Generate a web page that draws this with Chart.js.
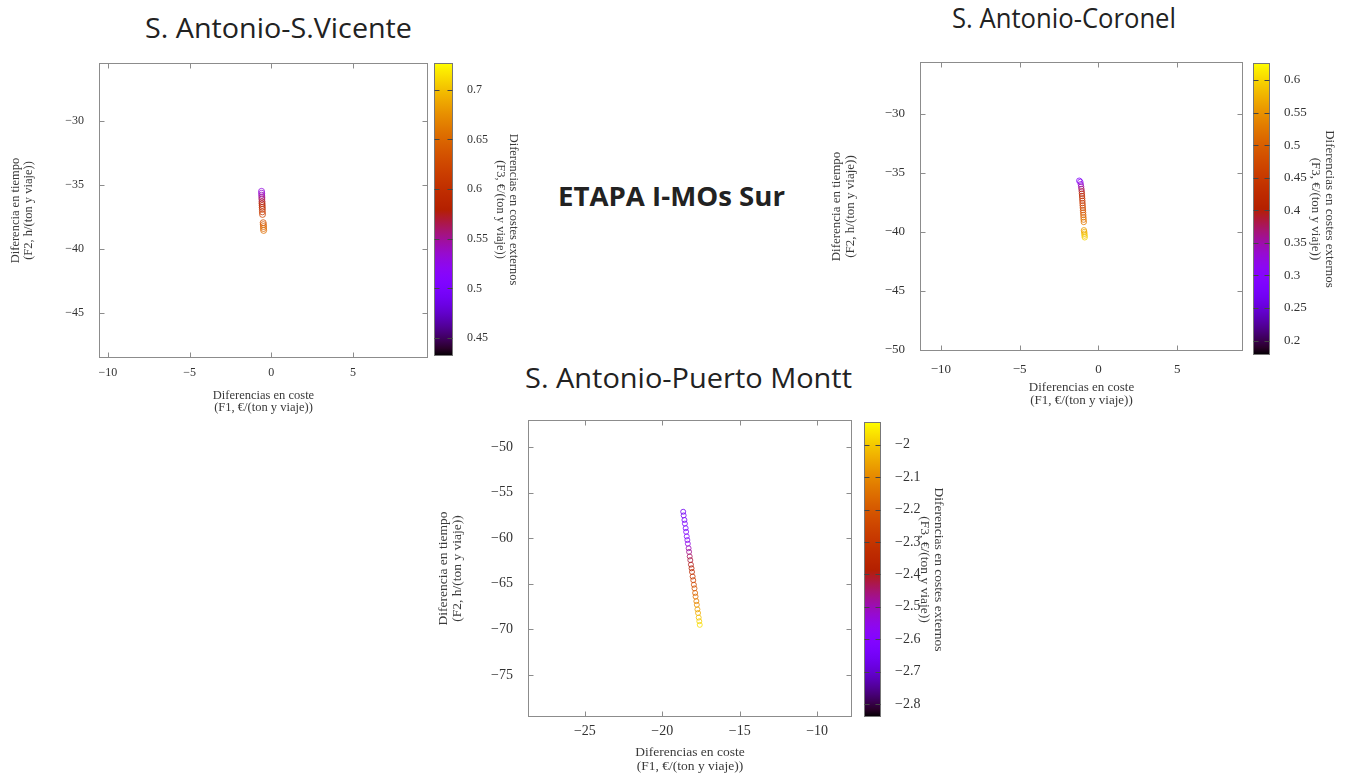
<!DOCTYPE html>
<html lang="es">
<head>
<meta charset="utf-8">
<title>ETAPA I-MOs Sur</title>
<script src="https://cdn.jsdelivr.net/npm/chart.js@4.4.1/dist/chart.umd.min.js"></script>
<style>
  html, body { margin: 0; padding: 0; background: #fff; overflow: hidden; }
  #page { position: relative; width: 1347px; height: 776px; }
  canvas { position: absolute; }
  .titulo { position: absolute; font-family: 'Open Sans', sans-serif; color: #222; white-space: nowrap; line-height: 1; transform-origin: left top; }
</style>
</head>
<body>
<div id="page">
  <div class="titulo" id="tSV">S. Antonio-S.Vicente</div>
  <div class="titulo" id="tCO">S. Antonio-Coronel</div>
  <div class="titulo" id="tPM">S. Antonio-Puerto Montt</div>
  <div class="titulo" id="tEtapa" style="font-weight:700">ETAPA I-MOs Sur</div>

  <canvas id="scSV" width="434" height="420" style="left:0px;top:0px"></canvas>
  <canvas id="cbSV" width="90" height="420" style="left:434px;top:0px"></canvas>

  <canvas id="scCO" width="427" height="413" style="left:821px;top:0px"></canvas>
  <canvas id="cbCO" width="87" height="413" style="left:1253px;top:0px"></canvas>

  <canvas id="scPM" width="428" height="419" style="left:429px;top:357px"></canvas>
  <canvas id="cbPM" width="86" height="419" style="left:864px;top:357px"></canvas>
</div>

<script>
// --- S. Antonio - S.Vicente ---
const f1SV = [-0.60, -0.59, -0.59, -0.58, -0.58, -0.57, -0.57, -0.56, -0.56, -0.55, -0.55, -0.54, -0.50, -0.49, -0.48, -0.48, -0.47];
const f2SV = [-35.5, -35.65, -35.8, -35.95, -36.1, -36.3, -36.45, -36.6, -36.75, -36.9, -37.1, -37.3, -37.95, -38.1, -38.25, -38.4, -38.55];
const f3SV = [0.53, 0.535, 0.54, 0.55, 0.56, 0.57, 0.58, 0.585, 0.59, 0.60, 0.61, 0.62, 0.635, 0.64, 0.645, 0.65, 0.655];
const xTicksSV = [-10, -5, 0, 5];
const yTicksSV = [-45, -40, -35, -30];
const cTicksSV = [0.45, 0.5, 0.55, 0.6, 0.65, 0.7];
const xRangeSV = [-10.55, 9.59];
const yRangeSV = [-48.52, -25.47];
const cRangeSV = [0.432, 0.727];

// --- S. Antonio - Coronel ---
const f1CO = [-1.22, -1.15, -1.12, -1.10, -1.08, -1.06, -1.05, -1.04, -1.03, -1.02, -1.01, -1.00, -0.99, -0.98, -0.97, -0.96, -0.95, -0.94, -0.93, -0.92, -0.90, -0.89, -0.88, -0.87];
const f2CO = [-35.65, -35.75, -35.95, -36.15, -36.35, -36.55, -36.75, -36.95, -37.15, -37.35, -37.55, -37.75, -37.95, -38.15, -38.35, -38.55, -38.75, -38.95, -39.15, -39.85, -40.0, -40.15, -40.3, -40.45];
const f3CO = [0.30, 0.31, 0.33, 0.35, 0.37, 0.39, 0.41, 0.42, 0.43, 0.44, 0.45, 0.46, 0.47, 0.48, 0.49, 0.50, 0.51, 0.52, 0.53, 0.56, 0.57, 0.58, 0.59, 0.60];
const xTicksCO = [-10, -5, 0, 5];
const yTicksCO = [-50, -45, -40, -35, -30];
const cTicksCO = [0.2, 0.25, 0.3, 0.35, 0.4, 0.45, 0.5, 0.55, 0.6];
const xRangeCO = [-11.33, 9.18];
const yRangeCO = [-50.08, -25.59];
const cRangeCO = [0.178, 0.626];

// --- S. Antonio - Puerto Montt ---
const f1PM = [-18.65, -18.62, -18.57, -18.54, -18.49, -18.46, -18.42, -18.38, -18.35, -18.30, -18.27, -18.23, -18.19, -18.15, -18.11, -18.08, -18.04, -18.00, -17.96, -17.92, -17.88, -17.85, -17.80, -17.77, -17.73, -17.69, -17.65, -17.61, -17.58];
const f2PM = [-57.1, -57.5, -58.0, -58.4, -58.9, -59.3, -59.8, -60.2, -60.6, -61.1, -61.5, -62.0, -62.4, -62.9, -63.3, -63.7, -64.2, -64.6, -65.1, -65.5, -66.0, -66.4, -66.9, -67.3, -67.8, -68.2, -68.7, -69.1, -69.5];
const f3PM = [-2.66, -2.65, -2.64, -2.63, -2.62, -2.61, -2.60, -2.58, -2.55, -2.50, -2.47, -2.44, -2.42, -2.40, -2.38, -2.34, -2.30, -2.27, -2.24, -2.21, -2.18, -2.15, -2.12, -2.09, -2.06, -2.04, -2.01, -1.99, -1.97];
const xTicksPM = [-25, -20, -15, -10];
const yTicksPM = [-75, -70, -65, -60, -55, -50];
const cTicksPM = [-2.8, -2.7, -2.6, -2.5, -2.4, -2.3, -2.2, -2.1, -2.0];
const xRangePM = [-28.67, -7.75];
const yRangePM = [-79.6, -47.04];
const cRangePM = [-2.84, -1.93];

const xTitle = ['Diferencias en coste', '(F1, €/(ton y viaje))'];
const yTitle = ['Diferencia en tiempo', '(F2, h/(ton y viaje))'];
const cTitle = ['Diferencias en costes externos', '(F3, €/(ton y viaje))'];

const SERIF = "'Liberation Serif', 'DejaVu Serif', serif";

// paleta por defecto de gnuplot (rgbformulae 7,5,15)
function paleta(t, alfa) {
    t = Math.min(1, Math.max(0, t));
    const r = Math.sqrt(t);
    const g = t * t * t;
    const b = Math.max(0, Math.sin(2 * Math.PI * t));
    return `rgba(${Math.round(r * 255)}, ${Math.round(g * 255)}, ${Math.round(b * 255)}, ${alfa === undefined ? 1 : alfa})`;
}

function fmt(v) {
    const n = Number(Math.abs(v).toFixed(2));
    return (v < 0 ? '\u2212' : '') + n;
}

// marco completo con marcas de escala hacia dentro, como en gnuplot
const marco = {
    id: 'marco',
    afterDraw(chart, args, o) {
        const { ctx, chartArea: a } = chart;
        const L = o.len || 5;
        ctx.save();
        ctx.strokeStyle = o.color || '#8a8a8a';
        ctx.lineWidth = 1;
        const l = Math.round(a.left) + 0.5, r = Math.round(a.right) - 0.5;
        const t = Math.round(a.top) + 0.5, b = Math.round(a.bottom) - 0.5;
        ctx.strokeRect(l, t, r - l, b - t);
        ctx.strokeStyle = o.tickColor || ctx.strokeStyle;
        ctx.beginPath();
        if (o.x !== false && chart.scales.x && chart.scales.x.type === 'linear') {
            chart.scales.x.ticks.forEach(tk => {
                const px = Math.round(chart.scales.x.getPixelForValue(tk.value)) + 0.5;
                ctx.moveTo(px, b); ctx.lineTo(px, b - L);
                ctx.moveTo(px, t); ctx.lineTo(px, t + L);
            });
        }
        chart.scales.y.ticks.forEach(tk => {
            const py = Math.round(chart.scales.y.getPixelForValue(tk.value)) + 0.5;
            ctx.moveTo(l, py); ctx.lineTo(l + L, py);
            ctx.moveTo(r, py); ctx.lineTo(r - L, py);
        });
        ctx.stroke();
        ctx.restore();
    }
};

function dispersion(id, f1, f2, f3, xr, yr, xt, yt, cr, cfg) {
    const puntos = f1.map((x, i) => ({ x: x, y: f2[i] }));
    const colores = f3.map(v => paleta((v - cr[0]) / (cr[1] - cr[0]), 0.8));
    return new Chart(document.getElementById(id), {
        type: 'scatter',
        data: {
            datasets: [{
                data: puntos,
                pointStyle: 'circle',
                pointRadius: cfg.radio,
                pointBorderWidth: 1,
                pointBackgroundColor: 'rgba(0,0,0,0)',
                pointBorderColor: colores
            }]
        },
        options: {
            responsive: false,
            animation: false,
            events: [],
            layout: { padding: { top: cfg.top, right: cfg.right, left: 0, bottom: 0 } },
            plugins: { legend: { display: false }, tooltip: { enabled: false }, marco: { color: '#8c8c8c', len: 5 } },
            scales: {
                x: {
                    type: 'linear', min: xr[0], max: xr[1],
                    afterBuildTicks: s => { s.ticks = xt.map(v => ({ value: v })); },
                    afterFit: s => { s.height = cfg.xh; },
                    grid: { display: false }, border: { display: false },
                    ticks: { padding: cfg.xtp, color: '#333', font: { family: SERIF, size: cfg.tick }, callback: v => fmt(v), maxRotation: 0 },
                    title: { display: true, text: xTitle, color: '#3a3a3a', font: { family: SERIF, size: cfg.lab, lineHeight: 1.0 }, padding: { top: 0, bottom: cfg.xpad } }
                },
                y: {
                    type: 'linear', min: yr[0], max: yr[1],
                    afterBuildTicks: s => { s.ticks = yt.map(v => ({ value: v })); },
                    afterFit: s => { s.width = cfg.yw; },
                    grid: { display: false }, border: { display: false },
                    ticks: { padding: 7, color: '#333', font: { family: SERIF, size: cfg.tick }, callback: v => fmt(v) },
                    title: { display: true, text: yTitle, color: '#3a3a3a', font: { family: SERIF, size: cfg.lab, lineHeight: 1.05 }, padding: { top: cfg.ypad, bottom: 0 } }
                }
            }
        },
        plugins: [marco]
    });
}

function barraColor(id, cr, ct, cfg) {
    return new Chart(document.getElementById(id), {
        type: 'bar',
        data: {
            labels: [''],
            datasets: [{
                data: [[cr[0], cr[1]]],
                barPercentage: 1,
                categoryPercentage: 1,
                borderWidth: 0,
                backgroundColor: c => {
                    const ch = c.chart;
                    if (!ch.chartArea) return '#000';
                    const ys = ch.scales.y;
                    const g = ch.ctx.createLinearGradient(0, ys.getPixelForValue(cr[0]), 0, ys.getPixelForValue(cr[1]));
                    for (let k = 0; k <= 40; k++) g.addColorStop(k / 40, paleta(k / 40));
                    return g;
                }
            }]
        },
        options: {
            responsive: false,
            animation: false,
            events: [],
            layout: { padding: { top: cfg.top, bottom: cfg.bottom, left: 0, right: 0 } },
            plugins: { legend: { display: false }, tooltip: { enabled: false }, marco: { color: '#777', tickColor: '#444', len: 5, x: false } },
            scales: {
                x: { display: false },
                y: {
                    position: 'right', min: cr[0], max: cr[1],
                    afterBuildTicks: s => { s.ticks = ct.map(v => ({ value: v })); },
                    afterFit: s => { s.width = cfg.w; },
                    grid: { display: false }, border: { display: false },
                    ticks: { padding: 6, color: '#333', font: { family: SERIF, size: cfg.tick }, callback: v => fmt(v) },
                    title: { display: true, text: cTitle, color: '#3a3a3a', font: { family: SERIF, size: cfg.lab, lineHeight: 1.05 }, padding: { top: cfg.tpad, bottom: 0 } }
                }
            }
        },
        plugins: [marco]
    });
}

dispersion('scSV', f1SV, f2SV, f3SV, xRangeSV, yRangeSV, xTicksSV, yTicksSV, cRangeSV,
    { top: 63, right: 6, xh: 62, yw: 99, xtp: 0, xpad: 6, ypad: 9, tick: 12, lab: 12.5, radio: 3.0 });
barraColor('cbSV', cRangeSV, cTicksSV, { top: 63, bottom: 64, w: 71, tick: 12, lab: 12.5, tpad: 4 });

dispersion('scCO', f1CO, f2CO, f3CO, xRangeCO, yRangeCO, xTicksCO, yTicksCO, cRangeCO,
    { top: 62, right: 4, xh: 62, yw: 99, xtp: 3, xpad: 6, ypad: 9, tick: 13, lab: 13, radio: 2.7 });
barraColor('cbCO', cRangeCO, cTicksCO, { top: 63, bottom: 58, w: 70, tick: 13, lab: 13, tpad: 4 });

dispersion('scPM', f1PM, f2PM, f3PM, xRangePM, yRangePM, xTicksPM, yTicksPM, cRangePM,
    { top: 63, right: 3, xh: 59, yw: 99, xtp: -2, xpad: 3, ypad: 7, tick: 14, lab: 13.5, radio: 2.5 });
barraColor('cbPM', cRangePM, cTicksPM, { top: 65, bottom: 59, w: 69, tick: 14, lab: 13.5, tpad: 4 });

// títulos: posición de la línea base y ancho del texto
const titulos = [
    { id: 'tSV', left: 145, base: 38, size: 28, width: 267 },
    { id: 'tCO', left: 952, base: 28, size: 28, width: 224 },
    { id: 'tPM', left: 525, base: 388, size: 28, width: 327 },
    { id: 'tEtapa', left: 558, base: 207, size: 26.5, width: 227 }
];
titulos.forEach(t => {
    const el = document.getElementById(t.id);
    el.style.fontSize = t.size + 'px';
    el.style.left = t.left + 'px';
    el.style.top = (t.base - 0.888 * t.size) + 'px';
    const w = el.getBoundingClientRect().width;
    el.style.transform = `scaleX(${t.width / w})`;
});
</script>
</body>
</html>
